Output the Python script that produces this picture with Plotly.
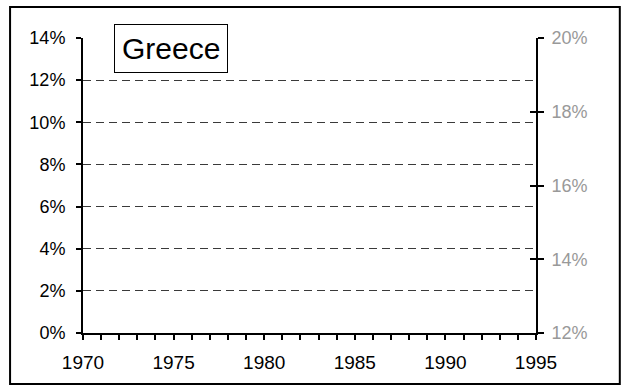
import plotly.graph_objects as go

# ── 数据 ──────────────────────────────────────────────────────────────
years       = []            # 图中没有画出任何数据
share_left  = []
share_right = []

x_range   = [1970, 1995]
left_rng  = [0.0, 0.14]
right_rng = [0.12, 0.20]
country   = "Greece"

FONT = "Liberation Sans, Arial, sans-serif"

fig = go.Figure()
fig.add_trace(go.Scatter(x=years, y=share_left, mode="lines", showlegend=False))
fig.add_trace(go.Scatter(x=years, y=share_right, mode="lines", showlegend=False, yaxis="y2"))
fig.add_trace(go.Scatter(x=years, y=share_right, mode="lines", showlegend=False, yaxis="y3"))

fig.update_layout(
    width=626, height=392,
    margin=dict(l=83, r=90, t=38, b=59, autoexpand=False),
    paper_bgcolor="white", plot_bgcolor="white",
    font=dict(family=FONT, color="black"),
    xaxis=dict(
        range=x_range, dtick=5, tick0=1970, automargin=False,
        ticks="outside", ticklen=5, tickwidth=2, tickcolor="black",
        minor=dict(dtick=1, ticks="outside", ticklen=5, tickwidth=2, tickcolor="black"),
        showline=True, linecolor="black", linewidth=2,
        showgrid=False, zeroline=False,
        tickfont=dict(size=19), ticklabelstandoff=6,
    ),
    yaxis=dict(
        range=left_rng, dtick=0.02, tickformat=".0%", automargin=False,
        ticks="outside", ticklen=5, tickwidth=2, tickcolor="black",
        showline=True, linecolor="black", linewidth=2,
        showgrid=True, gridcolor="#3a3a3a", gridwidth=1, griddash="8px,5px",
        zeroline=False,
        tickfont=dict(size=18), ticklabelstandoff=7,
    ),
    yaxis2=dict(
        range=right_rng, dtick=0.02, tickformat=".0%", automargin=False,
        overlaying="y", side="right",
        ticks="outside", ticklen=6, tickwidth=2, tickcolor="black",
        showline=True, linecolor="black", linewidth=2,
        showgrid=False, zeroline=False,
        tickfont=dict(size=18, color="#999999"), ticklabelstandoff=4,
    ),
    yaxis3=dict(
        range=right_rng, dtick=0.02, automargin=False,
        overlaying="y", side="right",
        ticks="inside", ticklen=6, tickwidth=2, tickcolor="black",
        showticklabels=False, showline=False,
        showgrid=False, zeroline=False,
    ),
)

# 国家名称标签框
fig.add_annotation(
    text=country, xref="paper", yref="paper",
    x=0.194, y=0.966, xanchor="center", yanchor="middle",
    showarrow=False, font=dict(size=30, family=FONT),
    bordercolor="black", borderwidth=1, borderpad=7, bgcolor="white",
)

# 外框
fig.add_shape(
    type="rect", xref="paper", yref="paper",
    x0=-0.161, x1=1.185, y0=-0.173, y1=1.105,
    line=dict(color="black", width=2),
)

fig.write_html("out.html", config={"displayModeBar": False},
               post_script="document.body.style.margin='0';")
